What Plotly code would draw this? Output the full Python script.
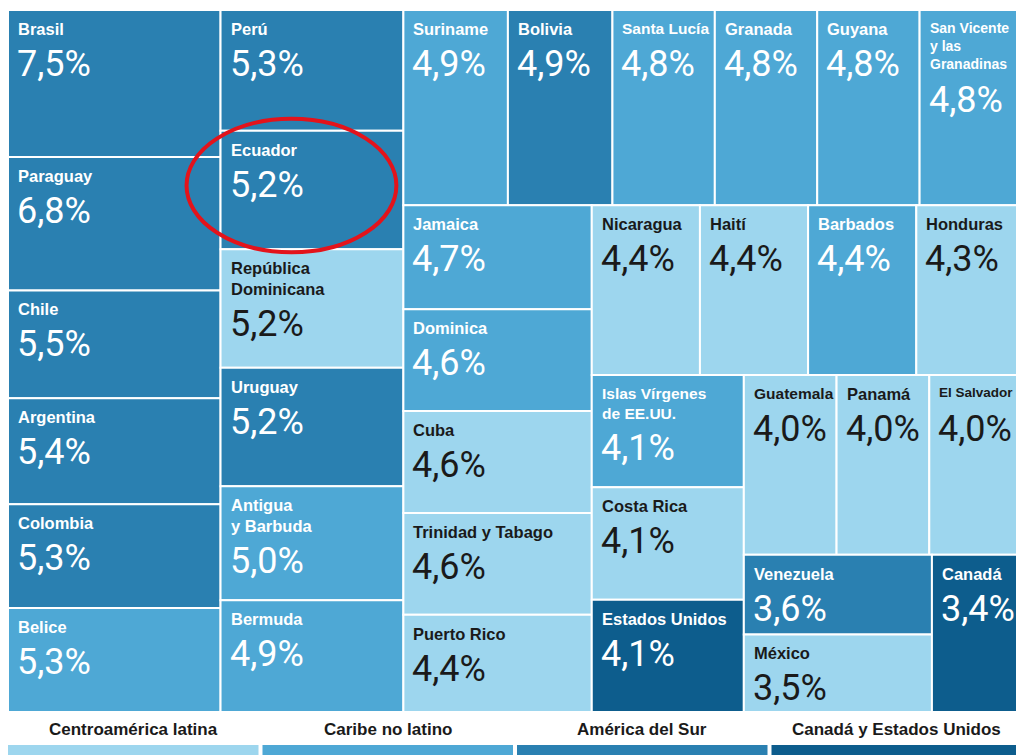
import plotly.graph_objects as go

# ---------------- data ----------------
countries = [
    "Brasil", "Paraguay", "Chile", "Argentina", "Colombia", "Belice",
    "Perú", "Ecuador", "República<br>Dominicana", "Uruguay", "Antigua<br>y Barbuda", "Bermuda",
    "Suriname", "Bolivia", "Santa Lucía", "Granada", "Guyana", "San Vicente<br>y las<br>Granadinas",
    "Jamaica", "Dominica", "Cuba", "Trinidad y Tabago", "Puerto Rico",
    "Nicaragua", "Haití", "Barbados", "Honduras",
    "Islas Vírgenes<br>de EE.UU.", "Costa Rica", "Estados Unidos",
    "Guatemala", "Panamá", "El Salvador",
    "Venezuela", "México",
    "Canadá",
]
values = [
    7.5, 6.8, 5.5, 5.4, 5.3, 5.3,
    5.3, 5.2, 5.2, 5.2, 5.0, 4.9,
    4.9, 4.9, 4.8, 4.8, 4.8, 4.8,
    4.7, 4.6, 4.6, 4.6, 4.4,
    4.4, 4.4, 4.4, 4.3,
    4.1, 4.1, 4.1,
    4.0, 4.0, 4.0,
    3.6, 3.5,
    3.4,
]
# L = Centroamérica latina, N = Caribe no latino, S = América del Sur, U = Canadá y EE.UU.
regions = [
    "S", "S", "S", "S", "S", "N",
    "S", "S", "L", "S", "N", "N",
    "N", "S", "N", "N", "N", "N",
    "N", "N", "L", "L", "L",
    "L", "L", "N", "L",
    "N", "L", "U",
    "L", "L", "L",
    "S", "L",
    "U",
]
group_sizes = [6, 6, 6, 5, 4, 3, 3, 2, 1]

legend_keys = ["L", "N", "S", "U"]
legend_labels = ["Centroamérica latina", "Caribe no latino", "América del Sur", "Canadá y Estados Unidos"]

# ---------------- style ----------------
colors = {"L": "#9dd6ee", "N": "#4ea8d5", "S": "#2a80b1", "U": "#0d5d8d"}
text_colors = {"L": "#1a1a1a", "N": "#ffffff", "S": "#ffffff", "U": "#ffffff"}
LABEL_FONT = "Liberation Sans, Arial, sans-serif"
VALUE_FONT = "Roboto, Liberation Sans, sans-serif"
label_size_override = {"San Vicente<br>y las<br>Granadinas": 14, "El Salvador": 13.5,
                       "Islas Vírgenes<br>de EE.UU.": 15.5, "Santa Lucía": 15.5,
                       "Guatemala": 15.5}

# page body has an 8px margin, so the figure is sized to fit the 1024x755 window
W, H = 1016, 747
ML, MR, MT, MB = 0, 2, 2, 43
PW, PH = W - ML - MR, H - MT - MB

# ---------------- hierarchy (slice-and-dice) ----------------
groups = []
start = 0
for n in group_sizes:
    groups.append(list(range(start, start + n)))
    start += n


def nest(gs):
    if len(gs) == 1:
        return gs[0]
    return [gs[0], nest(gs[1:])]


tree = [groups[0], groups[1], nest(groups[2:])]


def total(node):
    if isinstance(node, int):
        return values[node]
    return sum(total(c) for c in node)


rects = {}


def layout_node(node, x0, y0, x1, y1, depth):
    if isinstance(node, int):
        rects[node] = (x0, y0, x1, y1)
        return
    t = total(node)
    acc = 0.0
    for c in node:
        v = total(c)
        if depth % 2 == 0:
            a = x0 + (x1 - x0) * acc / t
            b = x0 + (x1 - x0) * (acc + v) / t
            layout_node(c, a, y0, b, y1, depth + 1)
        else:
            a = y0 + (y1 - y0) * acc / t
            b = y0 + (y1 - y0) * (acc + v) / t
            layout_node(c, x0, a, x1, b, depth + 1)
        acc += v


layout_node(tree, 0.0, 0.0, 1.0, 1.0, 0)

fig = go.Figure()
shapes = []
annotations = []
cx, cy, hov = [], [], []

for i, name in enumerate(countries):
    x0, y0, x1, y1 = rects[i]
    reg = regions[i]
    shapes.append(dict(type="rect", xref="x", yref="y", x0=x0, x1=x1, y0=y0, y1=y1,
                       fillcolor=colors[reg], line=dict(color="#ffffff", width=2), layer="below"))
    nlines = name.count("<br>") + 1
    lsize = label_size_override.get(name, 16.5)
    tc = text_colors[reg]
    annotations.append(dict(x=x0, y=y0, xref="x", yref="y", xanchor="left", yanchor="top",
                            xshift=8, yshift=-8, showarrow=False, align="left",
                            text="<b>" + name + "</b>",
                            font=dict(family=LABEL_FONT, size=lsize, color=tc)))
    vshift = 31 + (nlines - 1) * round(lsize * 1.25)
    annotations.append(dict(x=x0, y=y0, xref="x", yref="y", xanchor="left", yanchor="top",
                            xshift=7, yshift=-vshift, showarrow=False, align="left",
                            text=("%.1f" % values[i]).replace(".", ",") + "%",
                            font=dict(family=VALUE_FONT, size=36, color=tc)))
    cx.append((x0 + x1) / 2)
    cy.append((y0 + y1) / 2)
    hov.append(name.replace("<br>", " ") + ": " + ("%.1f" % values[i]).replace(".", ",") + "%")

fig.add_trace(go.Scatter(x=cx, y=cy, mode="markers", marker=dict(size=1, opacity=0),
                         hovertext=hov, hoverinfo="text", showlegend=False))

# red ellipse highlighting Ecuador
ex0, ey0, ex1, ey1 = rects[countries.index("Ecuador")]
shapes.append(dict(type="circle", xref="x", yref="y",
                   x0=ex0 - 34 / PW, x1=ex1 - 7 / PW, y0=ey0 - 12 / PH, y1=ey1 + 3 / PH,
                   line=dict(color="#e3131b", width=4), fillcolor="rgba(0,0,0,0)", layer="above"))

# legend: coloured strips + labels below the map
n = len(legend_keys)
gap = 4 / PW
seg = (1 - gap * (n - 1)) / n
for k, (key, lab) in enumerate(zip(legend_keys, legend_labels)):
    a = k * (seg + gap)
    b = a + seg
    shapes.append(dict(type="rect", xref="paper", yref="paper", x0=a, x1=b,
                       y0=-(MB + 5) / PH, y1=-33 / PH,
                       fillcolor=colors[key], line=dict(width=0)))
    annotations.append(dict(x=(a + b) / 2, y=-18 / PH, xref="paper", yref="paper",
                            xanchor="center", yanchor="middle", showarrow=False,
                            text="<b>" + lab + "</b>",
                            font=dict(family=LABEL_FONT, size=17, color="#1a1a1a")))

fig.update_layout(
    width=W, height=H,
    margin=dict(l=ML, r=MR, t=MT, b=MB, pad=0),
    paper_bgcolor="#ffffff", plot_bgcolor="#ffffff",
    xaxis=dict(range=[0, 1], visible=False, fixedrange=True),
    yaxis=dict(range=[1, 0], visible=False, fixedrange=True),
    shapes=shapes, annotations=annotations,
    showlegend=False,
)

fig.write_html("out.html")
